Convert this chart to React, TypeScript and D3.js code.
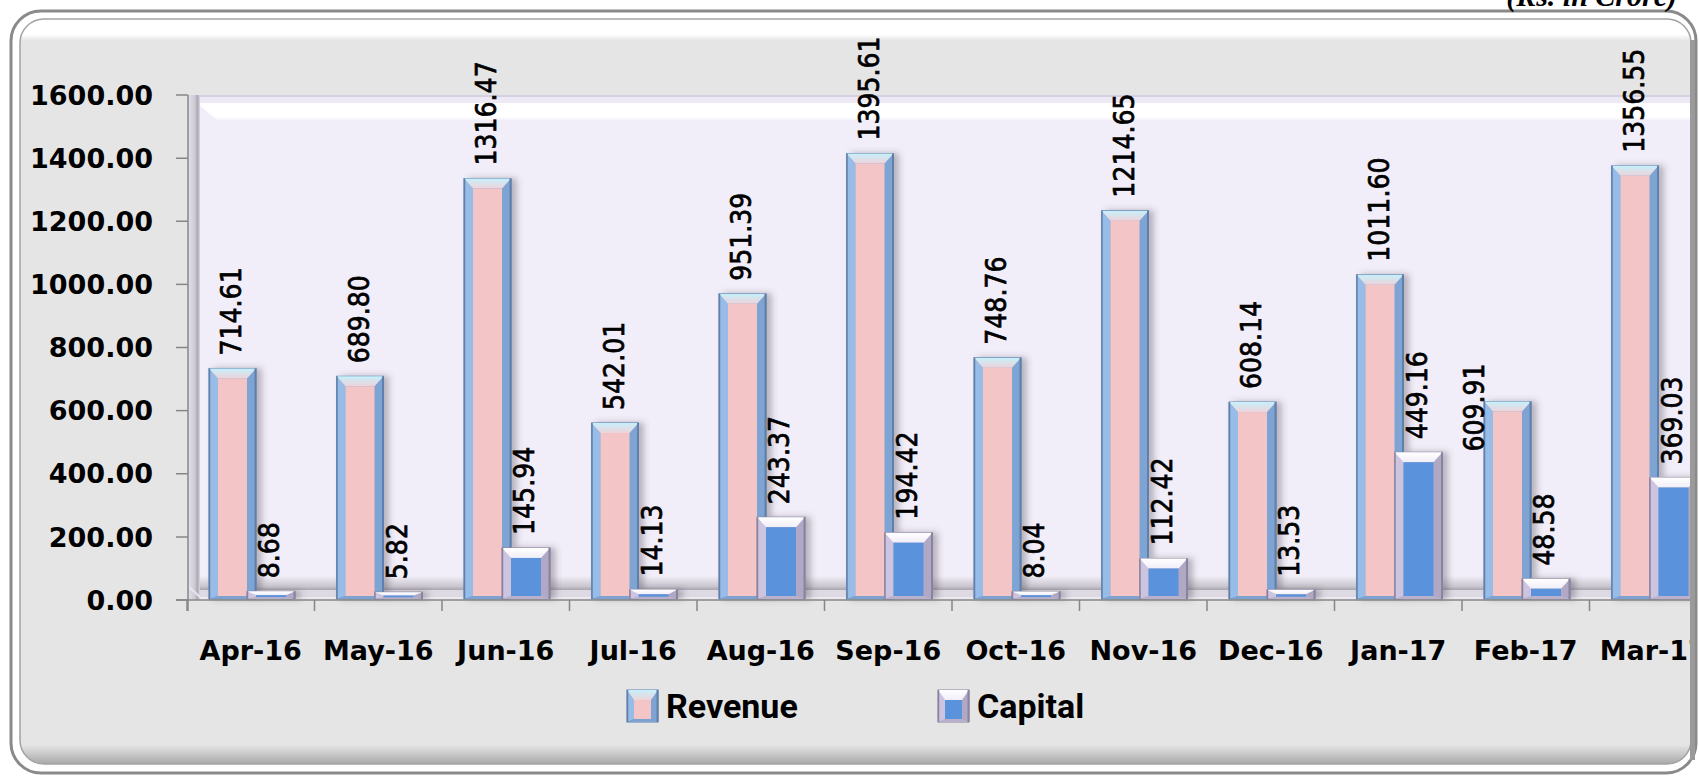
import React from 'react';
import * as d3 from 'd3';

const months = ['Apr-16', 'May-16', 'Jun-16', 'Jul-16', 'Aug-16', 'Sep-16', 'Oct-16', 'Nov-16', 'Dec-16', 'Jan-17', 'Feb-17', 'Mar-17'];
const revenue = [714.61, 689.8, 1316.47, 542.01, 951.39, 1395.61, 748.76, 1214.65, 608.14, 1011.6, 609.91, 1356.55];
const capital = [8.68, 5.82, 145.94, 14.13, 243.37, 194.42, 8.04, 112.42, 13.53, 449.16, 48.58, 369.03];
const seriesNames = ['Revenue', 'Capital'];
const yTickValues = [0, 200, 400, 600, 800, 1000, 1200, 1400, 1600];
const unitNote = '(Rs. in Crore)';
// labels that were dragged beside the bar instead of above it
const besideLabels = new Set(['Revenue|Feb-17']);

const W = 1699;
const H = 783;

interface Palette {
  edge: string;
  left: string;
  right: string;
  bottom: string;
  face: string;
  topId: string;
}

const palettes: Record<string, Palette> = {
  Revenue: { edge: '#6080ab', left: '#97bce8', right: '#7ea4d3', bottom: '#7da2cf', face: '#f3c5c6', topId: 'revTop' },
  Capital: { edge: '#8a83a0', left: '#cdc5df', right: '#b1a8c6', bottom: '#b9b1cc', face: '#5a93db', topId: 'capTop' },
};

const BevelBar: React.FC<{ x: number; top: number; bottom: number; w: number; p: Palette; b?: number }> = ({ x, top, bottom, w, p, b = 9 }) => {
  const h = Math.max(bottom - top, 0);
  const t = Math.min(10, h / 2);
  const bb = Math.min(3, h / 4);
  const pts = (a: number[][]) => a.map((d) => d.join(',')).join(' ');
  return (
    <g>
      <rect x={x} y={top} width={w} height={h} fill={p.right} stroke={p.edge} strokeWidth={1} />
      <polygon points={pts([[x, top], [x + b, top + t], [x + b, bottom - bb], [x, bottom]])} fill={p.left} />
      <polygon points={pts([[x + w, top], [x + w - b, top + t], [x + w - b, bottom - bb], [x + w, bottom]])} fill={p.right} />
      <polygon points={pts([[x, bottom], [x + b, bottom - bb], [x + w - b, bottom - bb], [x + w, bottom]])} fill={p.bottom} />
      <polygon points={pts([[x, top], [x + w, top], [x + w - b, top + t], [x + b, top + t]])} fill={`url(#${p.topId})`} />
      <rect x={x + b} y={top + t} width={Math.max(w - 2 * b, 0)} height={Math.max(h - t - bb, 0)} fill={p.face} />
      <line x1={x + 0.5} x2={x + 0.5} y1={top} y2={bottom} stroke={p.edge} strokeWidth={1.5} />
      <line x1={x + w - 0.5} x2={x + w - 0.5} y1={top} y2={bottom} stroke={p.edge} strokeWidth={2} />
    </g>
  );
};

const App: React.FC = () => {
  const x = d3.scaleBand<string>().domain(months).range([187, 187 + 12 * 127.5]).padding(0);
  const xs = d3.scaleBand<string>().domain(seriesNames).range([22, 98]).padding(0);
  const y = d3.scaleLinear().domain([0, 1600]).range([600, 95]);
  const fmt = d3.format('.2f');
  const depth = 6;
  const barW = 47;
  const values: Record<string, number[]> = { Revenue: revenue, Capital: capital };

  const wallL = 188;
  const wallR = 1697;
  const floorY = y(0);

  return (
    <svg width={W} height={H} style={{ position: 'absolute', left: 0, top: 0, background: '#fff' }}>
      <defs>
        <linearGradient id="revTop" x1="0" y1="0" x2="0" y2="1">
          <stop offset="0" stopColor="#c6f0fb" />
          <stop offset="1" stopColor="#eed3da" />
        </linearGradient>
        <linearGradient id="capTop" x1="0" y1="0" x2="0" y2="1">
          <stop offset="0" stopColor="#ffffff" />
          <stop offset="1" stopColor="#f1eef8" />
        </linearGradient>
        <linearGradient id="topGloss" x1="0" y1="0" x2="0" y2="1">
          <stop offset="0" stopColor="#ffffff" />
          <stop offset="0.7" stopColor="#ffffff" />
          <stop offset="1" stopColor="#e5e5e5" />
        </linearGradient>
        <linearGradient id="bottomShade" x1="0" y1="0" x2="0" y2="1">
          <stop offset="0" stopColor="#e5e5e5" />
          <stop offset="1" stopColor="#a9a9a9" />
        </linearGradient>
        <linearGradient id="leftWall" x1="0" y1="0" x2="1" y2="0">
          <stop offset="0" stopColor="#e4e0ea" />
          <stop offset="0.55" stopColor="#cfcbd5" />
          <stop offset="0.8" stopColor="#ada9b5" />
          <stop offset="1" stopColor="#dedae4" />
        </linearGradient>
        <linearGradient id="floorShade" x1="0" y1="0" x2="0" y2="1">
          <stop offset="0" stopColor="#f2eef8" />
          <stop offset="0.75" stopColor="#c9c5ce" />
          <stop offset="1" stopColor="#a9a5ae" />
        </linearGradient>
        <linearGradient id="wallTop" x1="0" y1="0" x2="0" y2="1">
          <stop offset="0" stopColor="#ffffff" />
          <stop offset="0.8" stopColor="#ffffff" />
          <stop offset="1" stopColor="#f4f1fa" />
        </linearGradient>
        <filter id="barShadow" x="-20%" y="-5%" width="150%" height="110%">
          <feDropShadow dx="5" dy="0" stdDeviation="3" floodColor="#4a4550" floodOpacity="0.35" />
        </filter>
        <clipPath id="frameClip">
          <rect x={20} y={19} width={1671} height={745} rx={24} />
        </clipPath>
      </defs>

      {/* chart frame */}
      <rect x={20} y={19} width={1671} height={745} rx={24} fill="#e5e5e5" />
      <g clipPath="url(#frameClip)">
        <rect x={20} y={19} width={1671} height={22} fill="url(#topGloss)" />
        <rect x={20} y={745} width={1671} height={19} fill="url(#bottomShade)" />
      </g>

      <g clipPath="url(#frameClip)">
        {/* back wall */}
        <rect x={wallL} y={95} width={wallR - wallL} height={floorY - 95} fill="#f2eef9" />
        <rect x={wallL} y={95} width={wallR - wallL} height={2} fill="#d6d0e1" />
        <rect x={197} y={97} width={wallR - 197} height={6} fill="#eeeaf5" />
        <polygon points={`197,103 ${wallR},103 ${wallR},120 217,120`} fill="url(#wallTop)" />
        {/* floor */}
        <rect x={200} y={576} width={wallR - 200} height={14} fill="url(#floorShade)" />
        <rect x={200} y={590} width={wallR - 200} height={floorY - 590} fill="#dedae3" />
        <rect x={200} y={597} width={wallR - 200} height={3} fill="#ebe8ef" />
        {/* left side wall */}
        <rect x={wallL} y={95} width={12} height={floorY - 95} fill="url(#leftWall)" />
        <line x1={wallL} x2={200} y1={586} y2={597} stroke="#e8e4ee" strokeWidth={2} />

        {/* bars */}
        {months.map((m, i) => (
          <g key={m} filter="url(#barShadow)">
            {seriesNames.map((s) => {
              const v = values[s][i];
              const bx = (x(m) as number) + (xs(s) as number);
              return (
                <BevelBar key={s} x={bx} top={y(v) - depth} bottom={floorY - 1} w={s === 'Capital' ? barW + 1 : barW} p={palettes[s]} />
              );
            })}
          </g>
        ))}

        {/* data labels */}
        {months.map((m, i) =>
          seriesNames.map((s) => {
            const v = values[s][i];
            const bx = (x(m) as number) + (xs(s) as number);
            const beside = besideLabels.has(`${s}|${m}`);
            const lx = beside ? bx - 10 : bx + 22;
            const ly = beside ? y(v) : y(v) - depth - 13;
            return (
              <text
                key={`${m}-${s}`}
                transform={`translate(${lx},${ly}) rotate(-90)`}
                dy="0.36em"
                textAnchor={beside ? 'middle' : 'start'}
                fontFamily="'DejaVu Sans Condensed', 'DejaVu Sans', sans-serif"
                fontStretch="condensed"
                fontSize={28}
                fill="#000"
                stroke="#000"
                strokeWidth={0.7}
              >
                {fmt(v)}
              </text>
            );
          })
        )}

        {/* axes */}
        <line x1={176} x2={wallR} y1={floorY} y2={floorY} stroke="#868686" strokeWidth={1.5} />
        <line x1={188} x2={188} y1={95} y2={611} stroke="#868686" strokeWidth={1.5} />
        {yTickValues.map((t) => (
          <line key={t} x1={176} x2={188} y1={y(t)} y2={y(t)} stroke="#868686" strokeWidth={1.5} />
        ))}
        {months.map((m) => (
          <line key={m} x1={x(m)} x2={x(m)} y1={floorY} y2={611} stroke="#868686" strokeWidth={1.5} />
        ))}
        {months.map((m) => (
          <text
            key={m}
            x={(x(m) as number) + x.bandwidth() / 2}
            y={660}
            textAnchor="middle"
            fontFamily="'DejaVu Sans', sans-serif"
            fontWeight="bold"
            fontSize={27}
            fill="#000"
          >
            {m}
          </text>
        ))}
      </g>

      {yTickValues.map((t) => (
        <text
          key={t}
          x={153}
          y={y(t)}
          dy="0.36em"
          textAnchor="end"
          fontFamily="'DejaVu Sans', sans-serif"
          fontWeight="bold"
          fontSize={27}
          fill="#000"
        >
          {fmt(t)}
        </text>
      ))}

      {/* legend */}
      {seriesNames.map((s, i) => {
        const lx = i === 0 ? 627 : 938;
        return (
          <g key={s}>
            <BevelBar x={lx} top={690} bottom={722} w={31} p={palettes[s]} b={7} />
            <text x={lx + 39} y={718} fontFamily="Roboto, sans-serif" fontWeight="bold" fontSize={34} fill="#000">
              {s}
            </text>
          </g>
        );
      })}

      {/* frame strokes */}
      <rect x={20} y={19} width={1671} height={745} rx={24} fill="none" stroke="#a3a3a3" strokeWidth={1.5} />
      <rect x={11} y={11} width={1685} height={762} rx={30} fill="none" stroke="#8a8a8a" strokeWidth={3} />
      <rect x={1690} y={40} width={5} height={720} fill="#9a9a9a" />

      <text x={1677} y={6} textAnchor="end" fontFamily="'Liberation Serif', serif" fontStyle="italic" fontWeight="bold" fontSize={30} fill="#000">
        {unitNote}
      </text>
    </svg>
  );
};

export default App;
